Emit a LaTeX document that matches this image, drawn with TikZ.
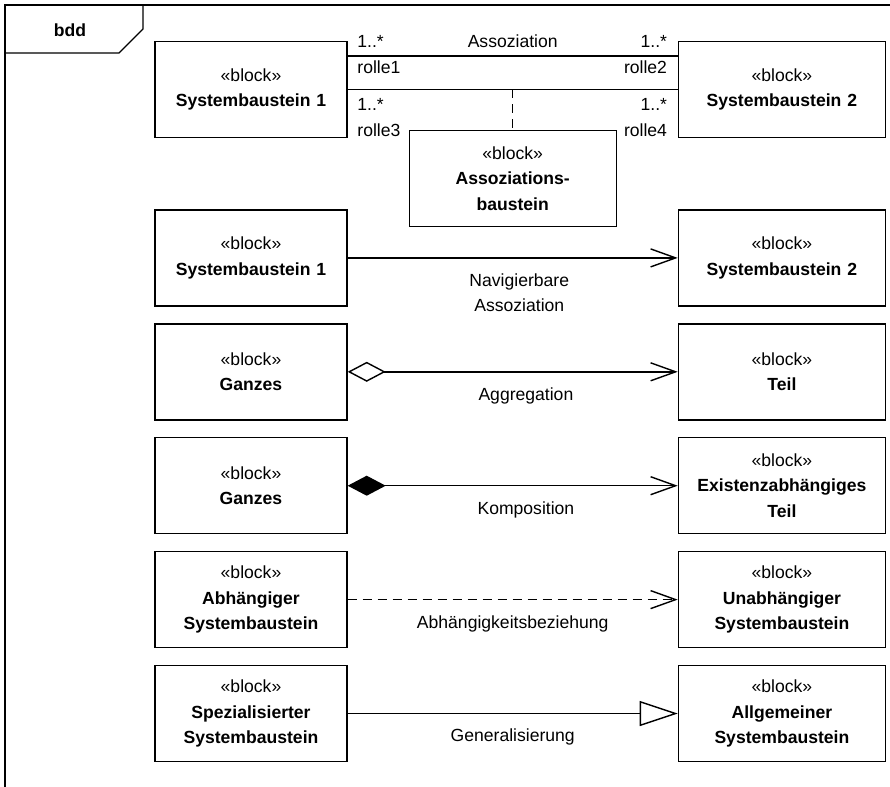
\documentclass[tikz,border=0pt]{standalone}
\usepackage{fontspec}
\setmainfont{Liberation Sans}
\usetikzlibrary{positioning, arrows.meta}

\begin{document}
\begin{tikzpicture}[node distance=0.33cm, font=\fontsize{10}{14.5}\selectfont]
    % Define styles
    \tikzstyle{sysblock} = [rectangle, draw, thick, text width=3.64cm, text centered, inner sep=0.1cm, minimum height=1.92cm]
    \tikzstyle{wideblock} = [sysblock, text width=3.94cm]
    \tikzstyle{link} = [thick]
    \tikzstyle{linklabel} = [below, inner sep=0, yshift=-0.3cm, align=center]
    \tikzstyle{rolelabel} = [inner sep=0]
    \tikzstyle{dashline} = [dash pattern=on 0.18cm off 0.12cm]
    \tikzstyle{navarrow} = [-{Straight Barb[length=0.5cm, width=0.36cm]}]
    \tikzstyle{aggarrow} = [{Diamond[open, length=0.76cm, width=0.4cm]}-{Straight Barb[length=0.5cm, width=0.36cm]}]
    \tikzstyle{comparrow} = [{Diamond[length=0.76cm, width=0.4cm]}-{Straight Barb[length=0.5cm, width=0.36cm]}]
    \tikzstyle{genarrow} = [-{Triangle[open, length=0.76cm, width=0.5cm]}]

    \useasboundingbox (0,0) rectangle (17.8,-15.74);

    % Frame
    \draw[thick] (17.9,-0.1) -- (0.1,-0.1) -- (0.1,-15.9);
    \draw[thick] (0.1,-1.06) -- (2.38,-1.06) -- (2.86,-0.58) -- (2.86,-0.1);
    \node[anchor=base] (bdd) at (1.4,-0.74) {\textbf{bdd}};

    % Nodes
    \node [sysblock] (assocA) at (5.02,-1.79) {«block»\\\textbf{Systembaustein 1}};
    \node [wideblock, right=6.6cm of assocA] (assocB) {«block»\\\textbf{Systembaustein 2}};
    \node [sysblock, below=1.42cm of assocA] (navA) {«block»\\\textbf{Systembaustein 1}};
    \node [wideblock, right=6.6cm of navA] (navB) {«block»\\\textbf{Systembaustein 2}};
    \node [sysblock, below=of navA] (aggA) {«block»\\\textbf{Ganzes}};
    \node [wideblock, right=6.6cm of aggA] (aggB) {«block»\\\textbf{Teil}};
    \node [sysblock, below=of aggA] (compA) {«block»\\\textbf{Ganzes}};
    \node [wideblock, right=6.6cm of compA] (compB) {«block»\\\textbf{Existenzabhängiges\\Teil}};
    \node [sysblock, below=of compA] (depA) {«block»\\\textbf{Abhängiger\\Systembaustein}};
    \node [wideblock, right=6.6cm of depA] (depB) {«block»\\\textbf{Unabhängiger\\Systembaustein}};
    \node [sysblock, below=of depA] (genA) {«block»\\\textbf{Spezialisierter\\Systembaustein}};
    \node [wideblock, right=6.6cm of genA] (genB) {«block»\\\textbf{Allgemeiner\\Systembaustein}};

    % Association with roles
    \draw [link] ([yshift=0.67cm]assocA.east) -- ([yshift=0.67cm]assocB.west)
        node [rolelabel, pos=0, anchor=base west, xshift=0.18cm, yshift=0.16cm] (multA) {1..*}
        node [rolelabel, pos=0, anchor=base west, xshift=0.18cm, yshift=-0.35cm] (rolleA) {rolle1}
        node [rolelabel, midway, anchor=base, yshift=0.16cm] (assoclabel) {Assoziation}
        node [rolelabel, pos=1, anchor=base east, xshift=-0.2cm, yshift=0.16cm] (multB) {1..*}
        node [rolelabel, pos=1, anchor=base east, xshift=-0.2cm, yshift=-0.35cm] (rolleB) {rolle2};
    \draw [link] (assocA.east) -- (assocB.west) coordinate [midway] (assocmid)
        node [rolelabel, pos=0, anchor=base west, xshift=0.18cm, yshift=-0.43cm] (multC) {1..*}
        node [rolelabel, pos=0, anchor=base west, xshift=0.18cm, yshift=-0.95cm] (rolleC) {rolle3}
        node [rolelabel, pos=1, anchor=base east, xshift=-0.2cm, yshift=-0.43cm] (multD) {1..*}
        node [rolelabel, pos=1, anchor=base east, xshift=-0.2cm, yshift=-0.95cm] (rolleD) {rolle4};
    \node [wideblock, below=0.81cm of assocmid] (assocC) {«block»\\\textbf{Assoziations-\\baustein}};
    \draw [link, dashline] (assocmid) -- (assocC.north);

    % Arrows
    \draw [link, navarrow] (navA) -- (navB) node [linklabel, pos=0.52] (navlabel) {Navigierbare\\Assoziation};
    \draw [link, aggarrow] (aggA) -- (aggB) node [linklabel, pos=0.54] (agglabel) {Aggregation};
    \draw [link, comparrow] (compA) -- (compB) node [linklabel, pos=0.54] (complabel) {Komposition};
    \draw [link, dashline, navarrow] (depA) -- (depB) node [linklabel, midway] (deplabel) {Abhängigkeitsbeziehung};
    \draw [link, genarrow] (genA) -- (genB) node [linklabel, midway] (genlabel) {Generalisierung};
\end{tikzpicture}
\end{document}
